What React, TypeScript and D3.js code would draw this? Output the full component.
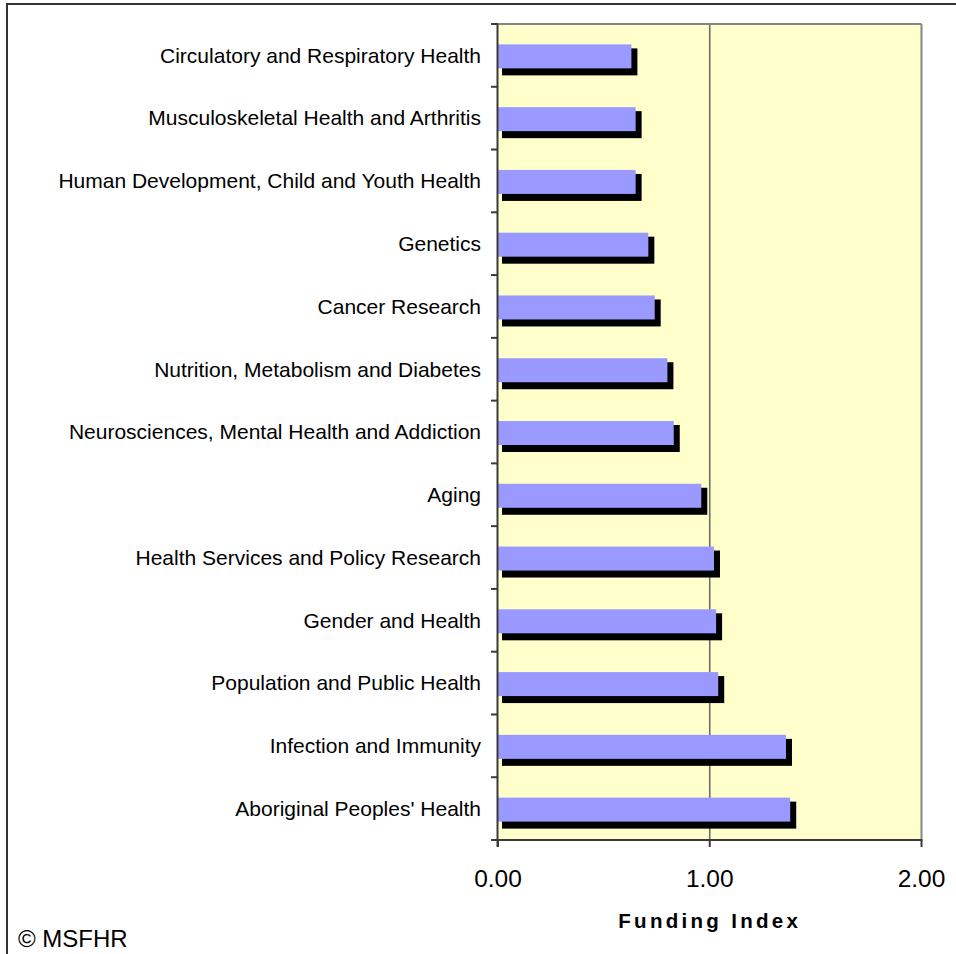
import React from "react";
import * as d3 from "d3";

const categories = [
  "Circulatory and Respiratory Health",
  "Musculoskeletal Health and Arthritis",
  "Human Development, Child and Youth Health",
  "Genetics",
  "Cancer Research",
  "Nutrition, Metabolism and Diabetes",
  "Neurosciences, Mental Health and Addiction",
  "Aging",
  "Health Services and Policy Research",
  "Gender and Health",
  "Population and Public Health",
  "Infection and Immunity",
  "Aboriginal Peoples' Health",
];
const values = [0.63, 0.65, 0.65, 0.71, 0.74, 0.8, 0.83, 0.96, 1.02, 1.03, 1.04, 1.36, 1.38];
const xTicks = [0, 1, 2];
const xTitle = "Funding Index";
const credit = "\u00A9 MSFHR";

const W = 956;
const H = 954;
const plot = { left: 498, right: 921.5, top: 24, bottom: 840 };
const FONT = "'Liberation Sans', Arial, Helvetica, sans-serif";

export default function App() {
  const x = d3.scaleLinear().domain([0, 2]).range([plot.left, plot.right]);
  const y = d3.scaleBand<string>().domain(categories).range([plot.top, plot.bottom]).padding(0);
  const bw = y.bandwidth();
  const boundaries = d3.range(categories.length + 1).map((i) => plot.top + i * bw);
  const barH = 24;

  return (
    <svg
      width={W}
      height={H}
      style={{ position: "absolute", left: 0, top: 0, background: "#fff" }}
      fontFamily={FONT}
    >
      {/* outer frame */}
      <rect x={7} y={4} width={1000} height={1000} fill="#fff" stroke="#333" strokeWidth={2} />

      {/* plot background */}
      <rect
        x={plot.left}
        y={plot.top}
        width={plot.right - plot.left}
        height={plot.bottom - plot.top}
        fill="#FFFFCC"
      />

      {/* gridline */}
      {xTicks
        .filter((t) => t !== 0 && t !== 2)
        .map((t) => (
          <line key={t} x1={x(t)} x2={x(t)} y1={plot.top} y2={plot.bottom} stroke="#6e6e66" strokeWidth={1.6} />
        ))}

      {/* bars */}
      {categories.map((c, i) => {
        const cy = (y(c) as number) + bw / 2 + 1;
        const top = cy - barH / 2;
        const x0 = x(0);
        const x1 = x(values[i]);
        return (
          <g key={c}>
            <rect x={x0 + 4} y={top + 4} width={x1 - x0 + 2} height={barH + 3} fill="#000" />
            <rect x={x0} y={top} width={x1 - x0} height={barH} fill="#9999FF" />
          </g>
        );
      })}

      {/* plot border top/right */}
      <line x1={plot.left} x2={plot.right} y1={plot.top} y2={plot.top} stroke="#858585" strokeWidth={2} />
      <line x1={plot.right} x2={plot.right} y1={plot.top} y2={plot.bottom} stroke="#858585" strokeWidth={2} />

      {/* y axis */}
      <line x1={plot.left - 0.5} x2={plot.left - 0.5} y1={plot.top} y2={plot.bottom + 7} stroke="#3a3a3a" strokeWidth={2} />
      {boundaries.map((b, i) => (
        <line key={i} x1={plot.left - 7} x2={plot.left} y1={b} y2={b} stroke="#3a3a3a" strokeWidth={2} />
      ))}

      {/* x axis */}
      <line x1={plot.left - 7} x2={plot.right + 1} y1={plot.bottom} y2={plot.bottom} stroke="#3a3a3a" strokeWidth={2} />
      {xTicks.map((t) => (
        <line key={t} x1={x(t)} x2={x(t)} y1={plot.bottom} y2={plot.bottom + 7} stroke="#3a3a3a" strokeWidth={2} />
      ))}

      {/* x tick labels */}
      {xTicks.map((t) => (
        <text key={t} x={x(t)} y={886.5} textAnchor="middle" fontSize={24.5} fill="#000">
          {d3.format(".2f")(t)}
        </text>
      ))}

      {/* category labels */}
      {categories.map((c) => (
        <text
          key={c}
          x={481}
          y={(y(c) as number) + bw / 2 + 7.3}
          textAnchor="end"
          fontSize={21}
          fill="#000"
        >
          {c}
        </text>
      ))}

      {/* x title */}
      <text
        x={(plot.left + plot.right) / 2}
        y={928}
        textAnchor="middle"
        fontSize={20.5}
        fontWeight="bold"
        letterSpacing={3.3}
        fill="#000"
      >
        {xTitle}
      </text>

      {/* credit */}
      <text x={18} y={947} fontSize={24} fill="#000">
        {credit}
      </text>
    </svg>
  );
}
